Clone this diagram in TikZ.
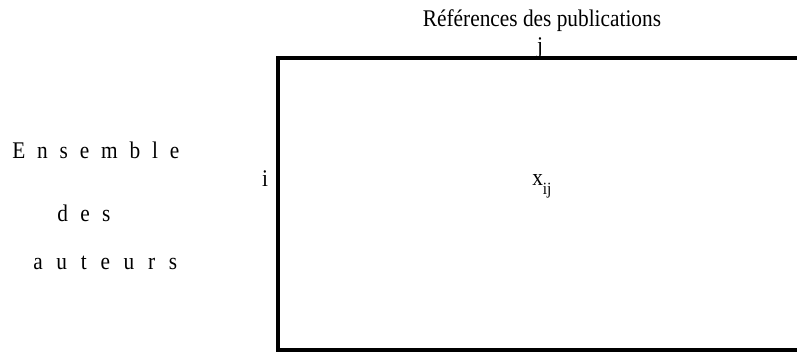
\documentclass[tikz,border=0pt]{standalone}
\usepackage{fontspec}
\setmainfont{Liberation Serif}
\usepackage{graphicx}
\usepackage{tikz}
\usetikzlibrary{positioning}
\newcommand{\tallt}[1]{\scalebox{1}[1.12]{#1}}
\tikzset{lbl/.style={inner sep=0pt, font=\fontsize{16}{19}\selectfont},
spaced/.style={lbl, anchor=base west, execute at begin node={\spaceskip=#1\relax}},
spaced/.default=9.3pt,
frame/.style={line width=3pt}}

\begin{document}
\begin{tikzpicture}[x=0.75pt, y=-0.75pt]
  \useasboundingbox (0,0) rectangle (797,352);
  % open matrix frame
  \coordinate (tr) at (797,58);
  \coordinate (tl) at (278,58);
  \coordinate (bl) at (278,350);
  \coordinate (br) at (797,350);
  \draw[frame] (tr) -- (tl) -- (bl) -- (br);
  \node[lbl, anchor=base] (refs) at (542,27) {\tallt{Références des publications}};
  \node[lbl, anchor=base] (col) at (540,54) {\tallt{j}};
  \node[lbl, anchor=base] (row) at (265,187) {\tallt{i}};
  \node[lbl, anchor=base west] (cell) at (532,186) {\tallt{x\raisebox{-6pt}{\fontsize{11.5}{13}\selectfont ij}}};
  \node[spaced=8.9pt] (ens) at (12,159) {\tallt{E n s e m b l e}};
  \node[spaced] (des) at (57,222) {\tallt{d e s}};
  \node[spaced=10.3pt] (aut) at (33,270) {\tallt{a u t e u r s}};
\end{tikzpicture}
\end{document}
